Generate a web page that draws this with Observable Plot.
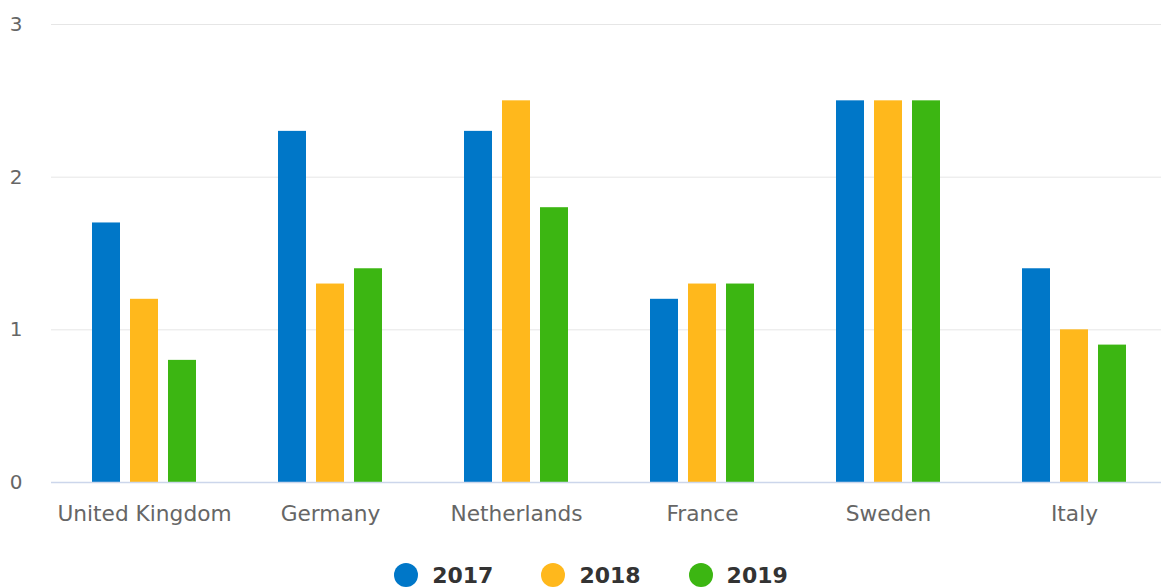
<!DOCTYPE html>
<html>
<head>
<meta charset="utf-8">
<script src="https://cdn.jsdelivr.net/npm/d3@7"></script>
<script src="https://cdn.jsdelivr.net/npm/@observablehq/plot@0.6"></script>
<style>
  html, body { margin: 0; padding: 0; background: #fff; overflow: hidden; width: 1161px; height: 588px; }
  #chart { width: 1161px; height: 545px; overflow: hidden; }
  #chart svg { display: block; max-width: none !important; }
  #legend { display: flex; justify-content: center; align-items: center; width: 1161px; box-sizing: border-box; padding-left: 21px; margin-top: 16px; height: 28px;
    font-family: "DejaVu Sans", sans-serif; font-weight: bold; font-size: 22px; color: #333; }
  .item { display: flex; align-items: center; margin: 0 24px; }
  .dot { width: 24px; height: 24px; border-radius: 50%; margin-right: 14px; }
</style>
</head>
<body>
<div id="chart"></div>
<div id="legend"></div>
<script>
const countries = ["United Kingdom", "Germany", "Netherlands", "France", "Sweden", "Italy"];
const years = ["2017", "2018", "2019"];
const values2017 = [1.7, 2.3, 2.3, 1.2, 2.5, 1.4];
const values2018 = [1.2, 1.3, 2.5, 1.3, 2.5, 1.0];
const values2019 = [0.8, 1.4, 1.8, 1.3, 2.5, 0.9];
const colors = ["#0077c8", "#ffb81c", "#3cb612"];
const yTicks = [0, 1, 2, 3];

const series = [values2017, values2018, values2019];
const data = [];
countries.forEach((c, i) => years.forEach((y, j) => data.push({country: c, year: y, value: series[j][i]})));

const chart = Plot.plot({
  width: 1167,
  height: 545,
  marginLeft: 50,
  marginRight: 0,
  marginTop: 24,
  marginBottom: 63,
  style: {fontFamily: "DejaVu Sans, sans-serif", background: "#fff", color: "#666", fontSize: "21.7px", maxWidth: "none"},
  fx: {domain: countries, padding: 0, label: null, tickSize: 0, tickPadding: 23, axis: "bottom"},
  x: {domain: years, axis: null, paddingInner: 10 / 38, paddingOuter: 1.079, round: false},
  y: {domain: [0, 3], ticks: yTicks, tickFormat: "d", tickSize: 0, tickPadding: 29, label: null},
  color: {domain: years, range: colors},
  marks: [
    Plot.ruleY(yTicks.slice(1), {stroke: "#e6e6e6", strokeWidth: 1}),
    Plot.barY(data, {fx: "country", x: "year", y: "value", fill: "year"}),
    Plot.ruleY([0], {stroke: "#ccd6eb", strokeWidth: 1.5})
  ]
});
chart.querySelectorAll("g[aria-label^='y-axis'] text").forEach(t => t.setAttribute("font-size", "20"));
document.getElementById("chart").appendChild(chart);

const legend = document.getElementById("legend");
years.forEach((y, i) => {
  const item = document.createElement("div");
  item.className = "item";
  const dot = document.createElement("span");
  dot.className = "dot";
  dot.style.background = colors[i];
  const lab = document.createElement("span");
  lab.textContent = y;
  item.appendChild(dot);
  item.appendChild(lab);
  legend.appendChild(item);
});
</script>
</body>
</html>
